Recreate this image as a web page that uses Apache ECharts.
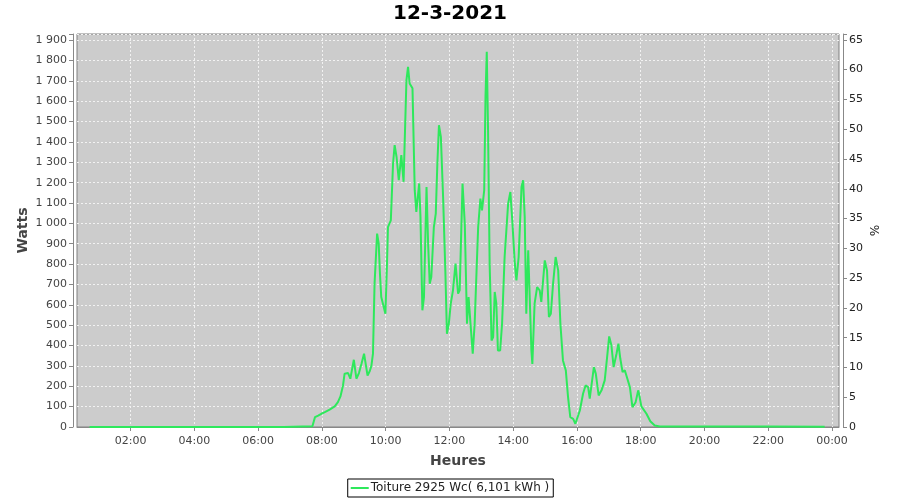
<!DOCTYPE html>
<html>
<head>
<meta charset="utf-8">
<script src="https://cdn.jsdelivr.net/npm/echarts@6/dist/echarts.min.js"></script>
<style>
html,body{margin:0;padding:0;background:#fff;}
#chart{width:900px;height:500px;}
</style>
</head>
<body>
<div id="chart"></div>
<script>
// Chart data
var titleText = '12-3-2021';
var seriesName = 'Toiture 2925 Wc( 6,101 kWh )';
var xName = 'Heures';
var yName = 'Watts';
var y2Name = '%';
var peakPower = 2925; // Wc, right axis = % of peak

// time of day in hours
var hours = [
  0.71, 2.0, 4.0, 6.0, 6.8, 6.85, 7.7, 7.74, 7.78,
  7.88, 7.98, 8.09, 8.24, 8.40, 8.50, 8.58, 8.66, 8.71, 8.77, 8.82, 8.89,
  9.00, 9.08, 9.16, 9.24, 9.32, 9.43, 9.50, 9.55, 9.60, 9.65, 9.73, 9.78, 9.82, 9.86, 9.92, 9.99,
  10.04, 10.07, 10.16, 10.23, 10.28, 10.34, 10.41, 10.49, 10.56, 10.65, 10.70, 10.75, 10.84, 10.91, 10.96,
  11.05, 11.09, 11.15, 11.20, 11.28, 11.33, 11.38, 11.43, 11.51, 11.57, 11.62, 11.67, 11.73, 11.80, 11.87, 11.92, 11.98,
  12.04, 12.11, 12.19, 12.27, 12.32, 12.41, 12.48, 12.55, 12.60, 12.66, 12.73, 12.79, 12.85, 12.90, 12.97,
  13.02, 13.09, 13.13, 13.17, 13.21, 13.26, 13.32, 13.37, 13.42, 13.47, 13.52, 13.59, 13.65, 13.73, 13.84, 13.91, 13.97,
  14.05, 14.10, 14.17, 14.26, 14.31, 14.36, 14.41, 14.47, 14.52, 14.57, 14.60, 14.67, 14.75, 14.83, 14.88, 14.99,
  15.06, 15.12, 15.18, 15.25, 15.33, 15.41, 15.48, 15.56, 15.65, 15.72, 15.79, 15.88, 15.95,
  16.00, 16.09, 16.19, 16.27, 16.35, 16.40, 16.53, 16.59, 16.68, 16.77, 16.87, 16.94,
  17.01, 17.08, 17.15, 17.24, 17.30, 17.36, 17.43, 17.50, 17.55, 17.66, 17.74, 17.78, 17.84, 17.92, 17.95,
  18.02, 18.18, 18.30, 18.44, 18.60, 20.0, 21.95, 22.0, 23.77
];
// power in watts
var watts = [
  0, 0, 0, 0, 0, 4, 4, 3, 48,
  56, 65, 73, 85, 101, 122, 150, 204, 262, 270, 265, 237,
  330, 237, 265, 311, 360, 253, 275, 300, 360, 704, 950, 900, 750, 638, 630, 556,
  802, 982, 1015, 1294, 1384, 1326, 1212, 1335, 1204, 1703, 1769, 1687, 1663, 1163, 1056,
  1196, 1032, 573, 638, 1179, 900, 704, 736, 982, 1048, 1294, 1482, 1425, 1130, 769, 458, 507,
  606, 671, 802, 655, 671, 1196, 999, 507, 638, 507, 360, 507, 769, 982, 1122,
  1064, 1163, 1621, 1843, 1458, 802, 425, 442, 663, 606, 376, 376, 507, 835, 1097, 1154, 1015,
  802, 720, 835, 1179, 1212, 1032, 556, 868, 868, 376, 310, 606, 687, 671, 614, 818,
  769, 540, 556, 704, 835, 769, 507, 327, 278, 147, 48, 40, 16,
  12, 81, 163, 204, 196, 139, 294, 262, 155, 180, 229, 335,
  445, 401, 294, 360, 409, 335, 270, 278, 253, 196, 97, 89, 122, 180, 160,
  101, 65, 28, 7, 3, 3, 3, 1, 1
];
// axis ticks
var xTickHours = [2, 4, 6, 8, 10, 12, 14, 16, 18, 20, 22, 24];
var xMinHour = 0.315, xMaxHour = 24.22;
var yMax = 1930, yStep = 100;
var y2Step = 5;

var seriesData = hours.map(function (h, i) { return [h, watts[i]]; });

function pad2(n) { return (n < 10 ? '0' : '') + n; }
function fmtThousands(v) {
  if (v >= 1000) {
    var r = v % 1000;
    return Math.floor(v / 1000) + ' ' + (r < 10 ? '00' : r < 100 ? '0' : '') + r;
  }
  return String(v);
}

var lineColor = '#2ee85c';
var chart = echarts.init(document.getElementById('chart'), null, {renderer: 'canvas'});
var font = 'DejaVu Sans';
chart.setOption({
  animation: false,
  backgroundColor: '#ffffff',
  textStyle: {fontFamily: font},
  title: {
    text: titleText,
    left: 'center',
    top: -1,
    textStyle: {fontFamily: font, fontSize: 20, fontWeight: 'bold', color: '#000'}
  },
  legend: {
    bottom: 3,
    left: 'center',
    data: [{name: seriesName, icon: 'rect'}],
    borderColor: '#000',
    borderWidth: 1,
    borderRadius: 0,
    padding: [3, 4, 3, 3],
    itemWidth: 18,
    itemHeight: 2,
    itemGap: 2,
    itemStyle: {color: lineColor},
    textStyle: {fontFamily: font, fontSize: 12, color: '#222', padding: [0, 0, 0, -3]}
  },
  grid: {
    left: 77, right: 61, top: 34, bottom: 73,
    show: true,
    backgroundColor: '#cccccc',
    borderColor: '#808080',
    borderWidth: 1
  },
  xAxis: {
    type: 'value',
    min: xMinHour,
    max: xMaxHour,
    splitNumber: 12,
    offset: 5,
    name: xName,
    nameLocation: 'middle',
    nameGap: 22,
    nameMoveOverlap: false,
    nameTextStyle: {fontFamily: font, fontSize: 14, fontWeight: 'bold', color: '#444'},
    axisLine: {show: true, lineStyle: {color: '#888', width: 1}},
    axisTick: {show: true, length: 4, lineStyle: {color: '#888'}, customValues: xTickHours},
    axisLabel: {
      customValues: xTickHours,
      fontFamily: font, fontSize: 11, color: '#444', margin: 4,
      showMinLabel: true, showMaxLabel: true,
      formatter: function (v) {
        var r = Math.round(v);
        if (Math.abs(v - r) > 1e-6 || r % 2 !== 0) return '';
        return pad2(r % 24) + ':00';
      }
    },
    splitLine: {show: true, lineStyle: {color: '#f2f2f2', width: 1, type: [2, 2]}}
  },
  yAxis: [{
    type: 'value',
    min: 0,
    max: yMax,
    interval: yStep,
    offset: 4,
    name: yName,
    nameLocation: 'middle',
    nameGap: 43,
    nameMoveOverlap: false,
    nameRotate: 90,
    nameTextStyle: {fontFamily: font, fontSize: 14, fontWeight: 'bold', color: '#444'},
    axisLine: {show: true, lineStyle: {color: '#888', width: 1}},
    axisTick: {show: true, length: 4, lineStyle: {color: '#888'}},
    axisLabel: {
      fontFamily: font, fontSize: 11, color: '#444', margin: 6,
      formatter: function (v) {
        if (v % yStep !== 0) return '';
        return fmtThousands(v);
      }
    },
    splitLine: {show: true, lineStyle: {color: '#f2f2f2', width: 1, type: [2, 2]}}
  }, {
    type: 'value',
    position: 'right',
    min: 0,
    max: yMax / peakPower * 100,
    interval: y2Step,
    offset: 4,
    name: y2Name,
    nameLocation: 'middle',
    nameGap: 24,
    nameMoveOverlap: false,
    nameRotate: -90,
    nameTextStyle: {fontFamily: font, fontSize: 12, color: '#222'},
    axisLine: {show: true, lineStyle: {color: '#888', width: 1}},
    axisTick: {show: true, length: 4, lineStyle: {color: '#888'}},
    axisLabel: {
      fontFamily: font, fontSize: 11, color: '#222', margin: 6,
      formatter: function (v) {
        if (Math.abs(v - Math.round(v)) > 1e-6 || Math.round(v) % y2Step !== 0) return '';
        return String(Math.round(v));
      }
    },
    splitLine: {show: false}
  }],
  series: [{
    name: seriesName,
    type: 'line',
    yAxisIndex: 0,
    data: seriesData,
    symbol: 'none',
    showSymbol: false,
    smooth: false,
    lineStyle: {color: lineColor, width: 2},
    itemStyle: {color: lineColor}
  }]
});
</script>
</body>
</html>
